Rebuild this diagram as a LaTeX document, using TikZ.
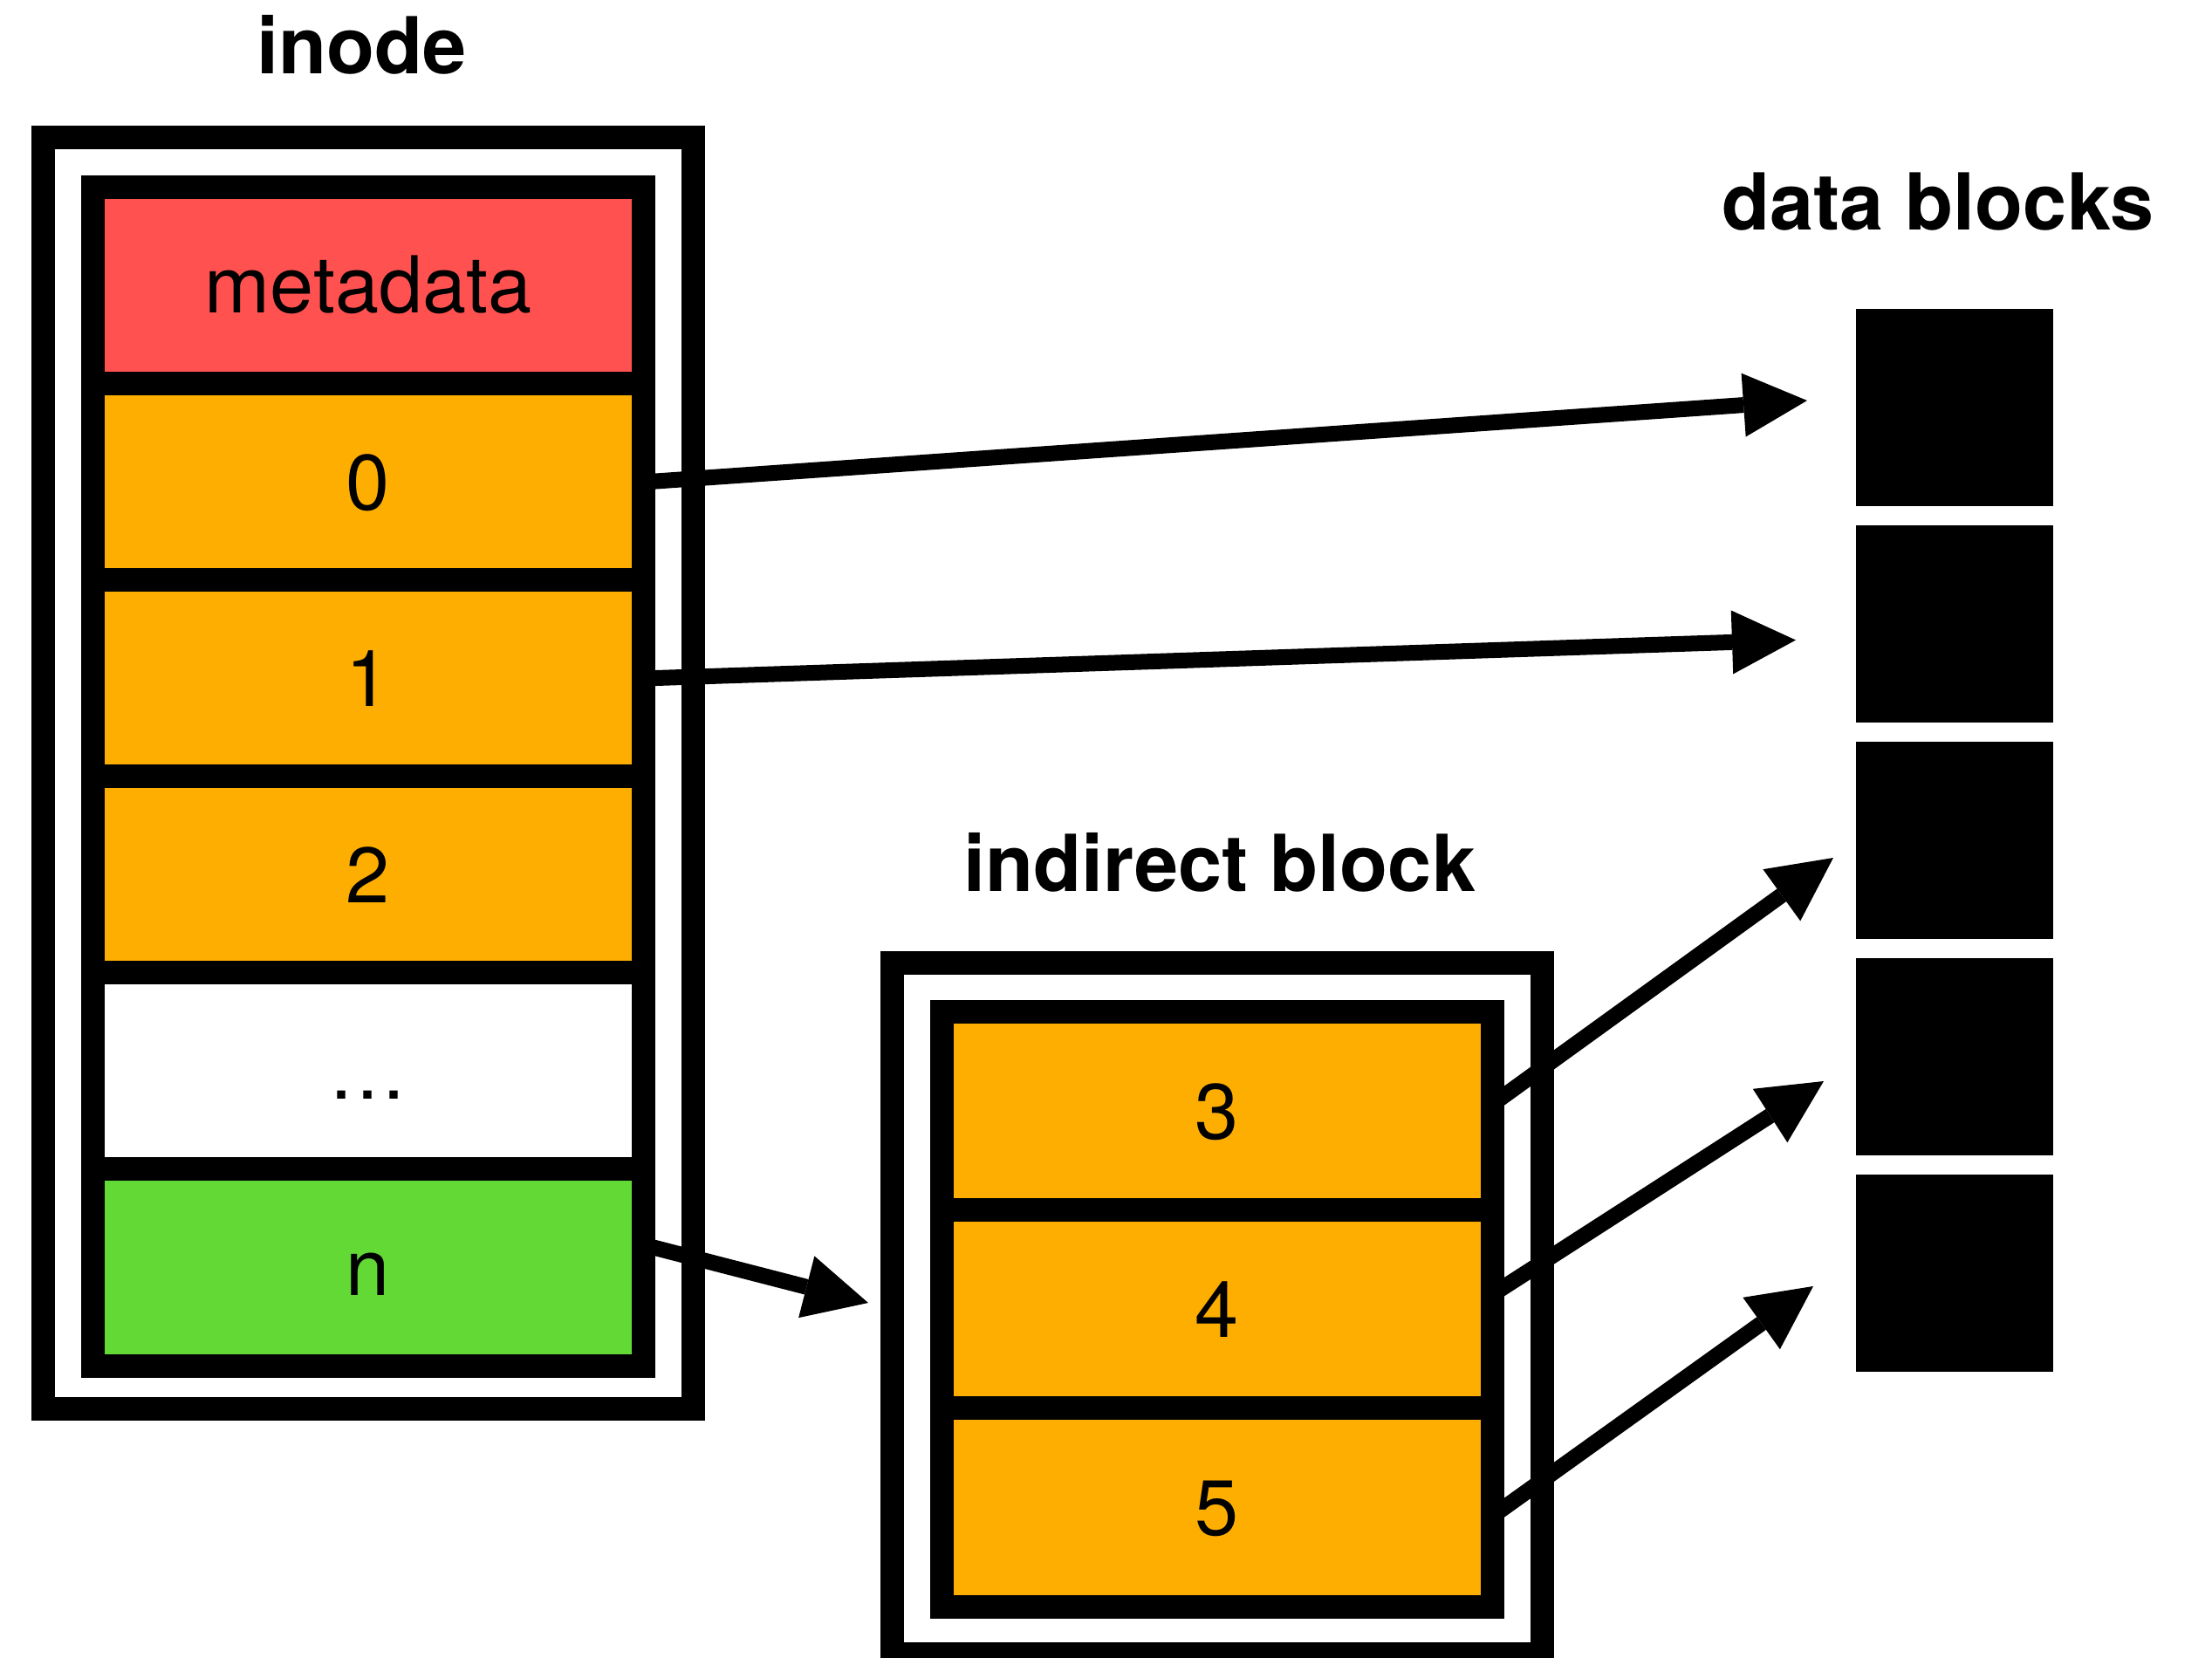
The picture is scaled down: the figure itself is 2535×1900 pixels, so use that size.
\documentclass[tikz,border=0pt]{standalone}
\usepackage{fontspec}
\setmainfont{TeX Gyre Heros}
\usetikzlibrary{arrows.meta}
\definecolor{mdred}{HTML}{FF5250}
\definecolor{blkorange}{HTML}{FDAE00}
\definecolor{ngreen}{HTML}{63D936}
\begin{document}
\begin{tikzpicture}[x=0.01cm,y=-0.01cm,
  frame/.style={draw=black, line width=0.27cm, inner sep=0pt, minimum width=7.44cm},
  cell/.style={draw=black, line width=0.27cm, inner sep=0pt, minimum width=6.3cm,
    minimum height=2.25cm, text height=0.63cm, text depth=0pt,
    font=\fontsize{25.6pt}{30pt}\selectfont},
  title/.style={font=\fontsize{25.6pt}{30pt}\selectfont\bfseries, anchor=base, inner sep=0pt},
  dblock/.style={fill=black, minimum width=2.26cm, minimum height=2.26cm, inner sep=0pt},
  ptr/.style={line width=0.18cm, -{Triangle[length=0.73cm,width=0.73cm,line width=0pt]}}
]
\useasboundingbox (0,0) rectangle (2535,1900);

% titles
\node[title] (tinode) at (415,85) {inode};
\node[title] (tdata) at (2221,264) {data blocks};
\node[title] (tind) at (1398,1021) {indirect block};

% inode
\node[frame, minimum height=14.56cm] (inode) at (422,886) {};
\node[cell, fill=mdred] (cm) at (422,327) {metadata};
\node[cell, fill=blkorange] (c0) at (422,552.5) {0};
\node[cell, fill=blkorange] (c1) at (422,777.5) {1};
\node[cell, fill=blkorange] (c2) at (422,1002.5) {2};
\node[cell, fill=white] (cd) at (422,1227.5) {…};
\node[cell, fill=ngreen] (cn) at (422,1452.5) {n};

% indirect block
\node[frame, minimum height=7.91cm] (ind) at (1395,1499.5) {};
\node[cell, fill=blkorange, minimum height=2.27cm] (i3) at (1395,1273.5) {3};
\node[cell, fill=blkorange, minimum height=2.27cm] (i4) at (1395,1500.5) {4};
\node[cell, fill=blkorange, minimum height=2.27cm] (i5) at (1395,1727.5) {5};

% data blocks
\node[dblock] (d1) at (2240,467) {};
\node[dblock] (d2) at (2240,715) {};
\node[dblock] (d3) at (2240,963) {};
\node[dblock] (d4) at (2240,1211) {};
\node[dblock] (d5) at (2240,1459) {};

% arrow tips
\coordinate (t0) at (2071,459);
\coordinate (t1) at (2058,733.5);
\coordinate (tn) at (995,1493);
\coordinate (t3) at (2101,983);
\coordinate (t4) at (2090,1239);
\coordinate (t5) at (2078,1474);

\draw[ptr] ([xshift=-0.135cm]c0.east) -- (t0);
\draw[ptr] ([xshift=-0.135cm]c1.east) -- (t1);
\draw[ptr] ([xshift=-0.135cm,yshift=0.26cm]cn.east) -- (tn);
\draw[ptr] ([xshift=-0.135cm,yshift=0.08cm]i3.east) -- (t3);
\draw[ptr] ([xshift=-0.135cm,yshift=0.17cm]i4.east) -- (t4);
\draw[ptr] ([xshift=-0.135cm,yshift=-0.1cm]i5.east) -- (t5);
\end{tikzpicture}
\end{document}
